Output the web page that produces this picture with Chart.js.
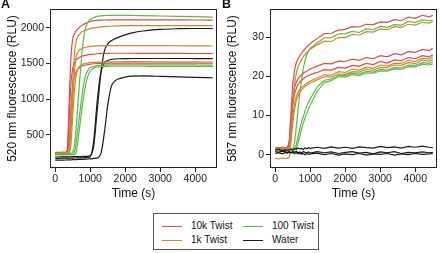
<!DOCTYPE html>
<html>
<head>
<meta charset="utf-8">
<script src="https://cdn.jsdelivr.net/npm/chart.js@4"></script>
<style>
  body { margin: 0; width: 440px; height: 253px; background: #fff; position: relative; overflow: hidden;
         font-family: "Liberation Sans", Arial, sans-serif; color: #111; }
  canvas { position: absolute; top: 0; }
  #chartA { left: 0; }
  #chartB { left: 220px; }
  .tag { position: absolute; top: -3px; font-weight: bold; font-size: 12.5px; }
  #legend { position: absolute; left: 153px; top: 213px; width: 166px; height: 37px;
            border: 1px solid #555; box-sizing: border-box; font-size: 10px; }
  .item { position: absolute; height: 12px; line-height: 12px; white-space: nowrap; }
  .item span { display: inline-block; width: 20px; height: 1.2px; vertical-align: middle; margin-right: 9px; }
</style>
</head>
<body>
<canvas id="chartA" width="220" height="210"></canvas>
<canvas id="chartB" width="220" height="210"></canvas>
<div class="tag" style="left:1px">A</div>
<div class="tag" style="left:222px">B</div>
<div id="legend">
  <div class="item" style="left:8px;top:6px"><span style="background:#e0484d"></span>10k Twist</div>
  <div class="item" style="left:89px;top:6px"><span style="background:#5db84a"></span>100 Twist</div>
  <div class="item" style="left:8px;top:20px"><span style="background:#c98a2b"></span>1k Twist</div>
  <div class="item" style="left:89px;top:20px"><span style="background:#1a1a1a"></span>Water</div>
</div>
<script>
// ---- panel A: 520 nm ----
const timeA = [0,100,200,300,350,400,450,500,550,600,650,700,750,800,850,900,950,1000,
               1100,1200,1300,1400,1500,1600,1700,1800,2000,2200,2500,3000,3500,4000,4500];

const red1A = [250,250,251,253,330,1000,1600,1850,1920,1960,1988,2010,2030,2045,2058,2068,2078,2088,
               2098,2104,2107,2109,2110,2111,2111,2112,2112,2112,2112,2111,2110,2109,2108];
const red2A = [252,252,253,253,300,780,1230,1430,1510,1550,1572,1588,1598,1606,1613,1618,1623,1627,
               1632,1636,1639,1641,1642,1643,1643,1643,1643,1643,1642,1642,1641,1640,1640];
const red3A = [256,256,257,257,280,450,880,1180,1320,1385,1422,1445,1460,1470,1477,1482,1486,1490,
               1496,1500,1502,1504,1505,1506,1506,1506,1506,1506,1506,1505,1505,1504,1503];

const orange1A = [245,245,246,247,250,320,750,1250,1630,1810,1880,1915,1938,1955,1966,1975,1982,1988,
                  1998,2006,2012,2017,2020,2023,2025,2027,2029,2030,2031,2031,2030,2030,2029];
const orange2A = [230,230,231,231,232,265,560,1000,1390,1600,1660,1690,1707,1718,1725,1731,1735,1739,
                  1744,1747,1749,1750,1751,1751,1751,1751,1751,1751,1750,1750,1748,1747,1745];
const orange3A = [240,240,241,241,242,244,380,780,1130,1340,1425,1462,1483,1495,1500,1505,1509,1512,
                  1515,1518,1520,1521,1522,1523,1524,1524,1525,1525,1525,1524,1523,1522,1520];

const green1A = [235,235,236,237,238,240,245,260,360,620,950,1280,1580,1820,1975,2050,2090,2115,
                 2145,2160,2168,2171,2172,2173,2173,2173,2173,2172,2170,2165,2160,2155,2150];
const green2A = [226,226,227,227,227,228,228,229,260,400,600,800,1000,1180,1300,1375,1418,1442,
                 1460,1470,1475,1478,1480,1481,1481,1481,1481,1481,1481,1480,1480,1479,1478];
const green3A = [220,220,221,221,221,222,222,223,224,260,420,620,820,1000,1150,1270,1345,1395,
                 1436,1450,1455,1458,1460,1461,1461,1461,1461,1461,1461,1460,1460,1459,1458];

const black1A = [190,190,191,192,193,193,194,194,195,195,196,196,197,198,199,200,202,210,
                 350,850,1350,1670,1775,1818,1845,1865,1900,1928,1955,1978,1987,1990,1990];
const black2A = [172,172,173,173,174,174,175,175,176,176,177,177,178,179,180,182,185,195,
                 420,980,1370,1505,1543,1557,1563,1566,1568,1570,1570,1570,1570,1569,1568];
const black3A = [145,146,147,148,149,150,151,152,153,154,155,156,157,158,160,161,163,165,
                 170,178,230,520,920,1175,1252,1282,1310,1322,1325,1320,1312,1305,1300];

// ---- panel B: 587 nm ----
const timeB = [0,100,200,300,350,400,450,500,550,600,650,700,750,800,850,900,950,1000,
               1200,1400,1600,1800,2000,2200,2400,2600,2800,3000,3200,3400,3600,3800,4000,4200,4400,4500];

const red1B = [1.6,1.8,1.5,1.7,1.6,3.5,11,18,21.5,23.5,24.4,25.2,25.9,26.5,27.0,27.5,27.9,28.4,
               29.7,30.9,31.0,31.8,32.0,32.7,32.6,33.3,33.2,33.9,33.8,34.5,34.2,35.1,34.8,35.6,35.2,35.6];
const red2B = [1.8,1.6,1.9,1.7,1.8,3,9,14.5,17.2,18.5,19.3,19.9,20.4,20.8,21.1,21.3,21.6,21.9,
               22.6,23.3,23.2,23.9,23.8,24.4,24.1,24.8,24.5,25.3,25.0,25.8,25.5,26.3,26.1,26.9,26.6,27.2];
const red3B = [1.5,1.7,1.4,1.6,1.6,2.5,7,12.5,15.5,17.0,17.9,18.5,19.0,19.4,19.7,20.0,20.2,20.4,
               21.0,21.7,21.6,22.3,22.1,22.8,22.6,23.3,23.0,23.8,23.4,24.2,24.0,24.8,24.5,25.3,25.0,25.5];

const orange1B = [1.7,1.5,1.8,1.6,1.7,1.9,6,13,18,20.8,22.4,23.4,24.3,25.0,25.6,26.1,26.5,26.9,
                  28.1,29.0,28.9,29.9,29.9,30.7,30.5,31.4,31.3,32.1,31.9,32.7,32.5,33.3,33.1,33.8,33.6,34.0];
const orange2B = [1.4,1.6,1.3,1.5,1.5,1.8,5,10,13,14.8,15.9,16.6,17.1,17.5,17.9,18.2,18.5,18.8,
                  19.6,20.4,20.3,21.2,21.0,21.8,21.6,22.3,22.1,22.9,22.6,23.3,23.3,24.1,23.8,24.6,24.4,25.0];
const orange3B = [-0.9,-1.1,-0.8,-1.0,-0.9,-0.6,3,8,11.5,13.8,15.0,15.9,16.5,17.0,17.4,17.7,18.0,18.3,
                  19.1,19.9,19.8,20.6,20.5,21.2,21.1,21.8,21.6,22.3,22.2,22.9,22.8,23.5,23.3,24.1,23.9,24.3];

const green1B = [1.0,1.2,0.9,1.1,1.0,1.1,1.2,1.4,3,7,11.5,15.5,19,22,24,25.5,26.5,27.2,
                 28.6,29.8,29.9,30.8,30.9,31.5,31.2,32.1,31.9,32.8,32.5,33.2,33.1,34.0,33.8,34.4,34.2,34.3];
const green2B = [1.1,0.9,1.2,1.0,1.1,1.0,1.2,1.3,1.5,2.5,4.5,6.5,8.3,9.8,11.2,12.4,13.4,14.3,
                 17.3,19.0,19.3,20.2,20.2,20.9,20.6,21.3,21.1,21.8,21.6,22.3,22.2,22.9,22.8,23.5,23.3,23.8];
const green3B = [0.9,1.1,0.8,1.0,0.9,1.0,1.0,1.1,1.2,1.6,3,4.8,6.5,8.0,9.4,10.6,11.7,12.7,
                 16.2,18.4,18.9,19.9,19.8,20.5,20.2,20.9,20.8,21.4,21.3,21.9,21.8,22.5,22.4,23.1,22.9,23.2];

const black1B = [1.2,1.4,1.0,1.3,1.1,1.3,1.5,1.2,1.6,1.4,1.7,1.5,1.6,1.3,1.7,1.5,1.8,1.6,
                 1.9,1.6,2.0,1.7,1.9,1.6,2.0,1.8,1.7,2.1,1.8,2.0,1.7,2.1,1.9,2.2,1.9,1.8];
const black2B = [0.8,0.6,0.9,0.7,0.5,0.8,0.4,0.6,0.3,0.5,0.2,0.4,0.1,0.3,0.0,0.3,0.1,0.2,
                 0.4,0.0,0.3,-0.1,0.2,0.0,0.3,-0.1,0.2,0.1,0.3,-0.1,0.2,0.0,0.3,0.1,0.2,0.3];
const black3B = [0.3,0.5,0.2,0.6,0.4,0.7,0.5,0.8,0.6,0.9,0.5,0.7,0.4,0.8,0.6,0.5,0.7,0.4,
                 0.8,0.5,0.7,0.3,0.6,0.8,0.4,0.6,0.2,0.7,0.5,0.8,0.3,0.6,0.5,0.7,0.5,0.6];

const xTicks = [0,1000,2000,3000,4000];
const yTicksA = [500,1000,1500,2000];
const yTicksB = [0,10,20,30];

const RED = "#e0484d", ORANGE = "#c98a2b", GREEN = "#5db84a", BLACK = "#1a1a1a";
const FONT = "'Liberation Sans', Arial, sans-serif";

function line(times, vals, color, smooth) {
  return {
    data: times.map((t, i) => ({ x: t, y: vals[i] })),
    borderColor: color,
    borderWidth: 1.2,
    pointRadius: 0,
    fill: false,
    tension: smooth ? 0.4 : 0,
    cubicInterpolationMode: smooth ? "monotone" : "default"
  };
}

// full box around the plot region
const boxPlugin = {
  id: "box",
  afterDraw(chart) {
    const a = chart.chartArea, c = chart.ctx;
    c.save();
    c.strokeStyle = "#222";
    c.lineWidth = 1;
    c.strokeRect(Math.round(a.left) + 0.5, Math.round(a.top) + 0.5,
                 Math.round(a.right - a.left) - 1, Math.round(a.bottom - a.top) - 1);
    c.restore();
  }
};

function makeChart(id, datasets, ymin, ymax, yTicks, yTitle) {
  return new Chart(document.getElementById(id).getContext("2d"), {
    type: "line",
    data: { datasets: datasets },
    options: {
      responsive: false,
      animation: false,
      devicePixelRatio: 1,
      layout: { padding: { left: 0, right: 3, top: 9, bottom: 0 } },
      plugins: { legend: { display: false }, tooltip: { enabled: false } },
      scales: {
        x: {
          type: "linear", min: -150, max: 4620,
          afterBuildTicks: s => { s.ticks = xTicks.map(v => ({ value: v })); },
          afterFit: s => { s.height = 42; },
          ticks: { font: { family: FONT, size: 10.5 }, color: "#222", padding: 1,
                   maxRotation: 0, autoSkip: false, callback: v => String(v) },
          grid: { drawOnChartArea: false, tickLength: 4, color: "#222" },
          border: { display: false },
          title: { display: true, text: "Time (s)", font: { family: FONT, size: 12 },
                   color: "#111", padding: { top: 0, bottom: 9 } }
        },
        y: {
          min: ymin, max: ymax,
          afterBuildTicks: s => { s.ticks = yTicks.map(v => ({ value: v })); },
          afterFit: s => { s.width = 50; },
          ticks: { font: { family: FONT, size: 10.5 }, color: "#222", padding: 2,
                   autoSkip: false, callback: v => String(v) },
          grid: { drawOnChartArea: false, tickLength: 4, color: "#222" },
          border: { display: false },
          title: { display: true, text: yTitle, font: { family: FONT, size: 12 },
                   color: "#111", padding: { top: 5, bottom: 0 } }
        }
      }
    },
    plugins: [boxPlugin]
  });
}

makeChart("chartA", [
  line(timeA, green1A, GREEN, true), line(timeA, green2A, GREEN, true), line(timeA, green3A, GREEN, true),
  line(timeA, orange1A, ORANGE, true), line(timeA, orange2A, ORANGE, true), line(timeA, orange3A, ORANGE, true),
  line(timeA, red1A, RED, true), line(timeA, red2A, RED, true), line(timeA, red3A, RED, true),
  line(timeA, black1A, BLACK, true), line(timeA, black2A, BLACK, true), line(timeA, black3A, BLACK, true)
], 36, 2263, yTicksA, "520 nm fluorescence (RLU)");

makeChart("chartB", [
  line(timeB, black1B, BLACK, false), line(timeB, black2B, BLACK, false), line(timeB, black3B, BLACK, false),
  line(timeB, orange1B, ORANGE, false), line(timeB, orange2B, ORANGE, false), line(timeB, orange3B, ORANGE, false),
  line(timeB, green1B, GREEN, false), line(timeB, green2B, GREEN, false), line(timeB, green3B, GREEN, false),
  line(timeB, red1B, RED, false), line(timeB, red2B, RED, false), line(timeB, red3B, RED, false)
], -3.4, 37.2, yTicksB, "587 nm fluorescence (RLU)");
</script>
</body>
</html>
